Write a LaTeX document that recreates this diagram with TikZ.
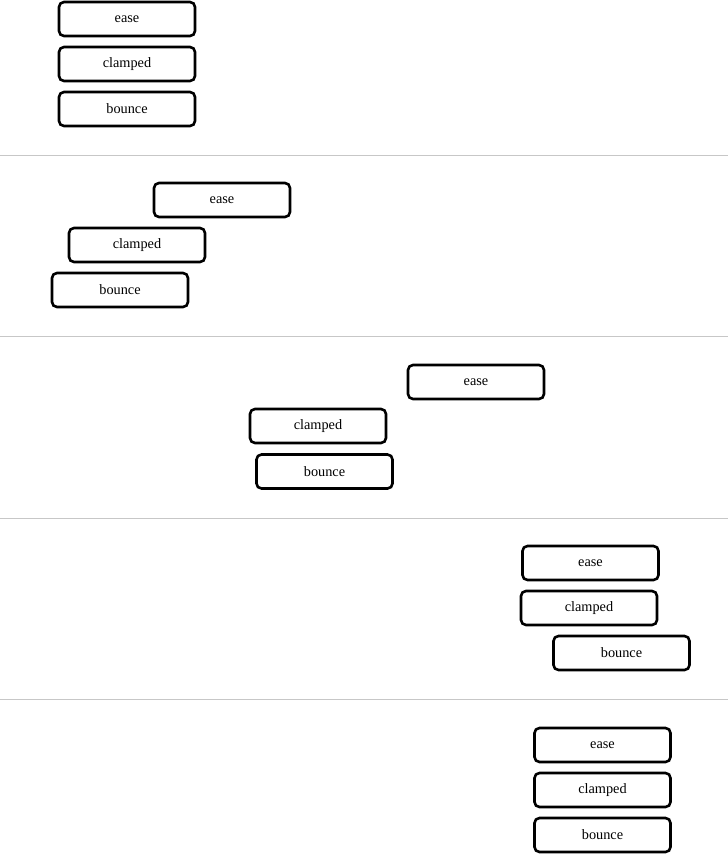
\documentclass[tikz,border=0pt]{standalone}
\usepackage{fontspec}
\setmainfont{Liberation Serif}
\begin{document}
\begin{tikzpicture}[x=1pt,y=-1pt,
  easebox/.style={draw=black,line width=2.6pt,rounded corners=5pt,fill=white,
    minimum width=136pt,minimum height=34pt,inner sep=0pt,font=\fontsize{14.3}{16}\selectfont},
  sepline/.style={draw=black!22,line width=1pt}]
\useasboundingbox (0,0) rectangle (728,854);
% separators
\coordinate (s1l) at (0,155.5); \coordinate (s1r) at (728,155.5);
\coordinate (s2l) at (0,336.5); \coordinate (s2r) at (728,336.5);
\coordinate (s3l) at (0,518); \coordinate (s3r) at (728,518);
\coordinate (s4l) at (0,699.5); \coordinate (s4r) at (728,699.5);
\draw[sepline] (s1l) -- (s1r);
\draw[sepline] (s2l) -- (s2r);
\draw[sepline] (s3l) -- (s3r);
\draw[sepline] (s4l) -- (s4r);
% panel 1
\node[easebox] (a1) at (127,19) {ease};
\node[easebox] (b1) at (127,64) {clamped};
\node[easebox] (c1) at (127,109) {bounce};
% panel 2
\node[easebox] (a2) at (222,200) {ease};
\node[easebox] (b2) at (137,245) {clamped};
\node[easebox] (c2) at (120,290) {bounce};
% panel 3
\node[easebox] (a3) at (476,382) {ease};
\node[easebox] (b3) at (318,426) {clamped};
\node[easebox] (c3) at (324.5,471.5) {bounce};
% panel 4
\node[easebox] (a4) at (590.5,563) {ease};
\node[easebox] (b4) at (589,608) {clamped};
\node[easebox] (c4) at (621.5,653) {bounce};
% panel 5
\node[easebox] (a5) at (602.5,745) {ease};
\node[easebox] (b5) at (602.5,790) {clamped};
\node[easebox] (c5) at (602.5,835) {bounce};
\end{tikzpicture}
\end{document}
